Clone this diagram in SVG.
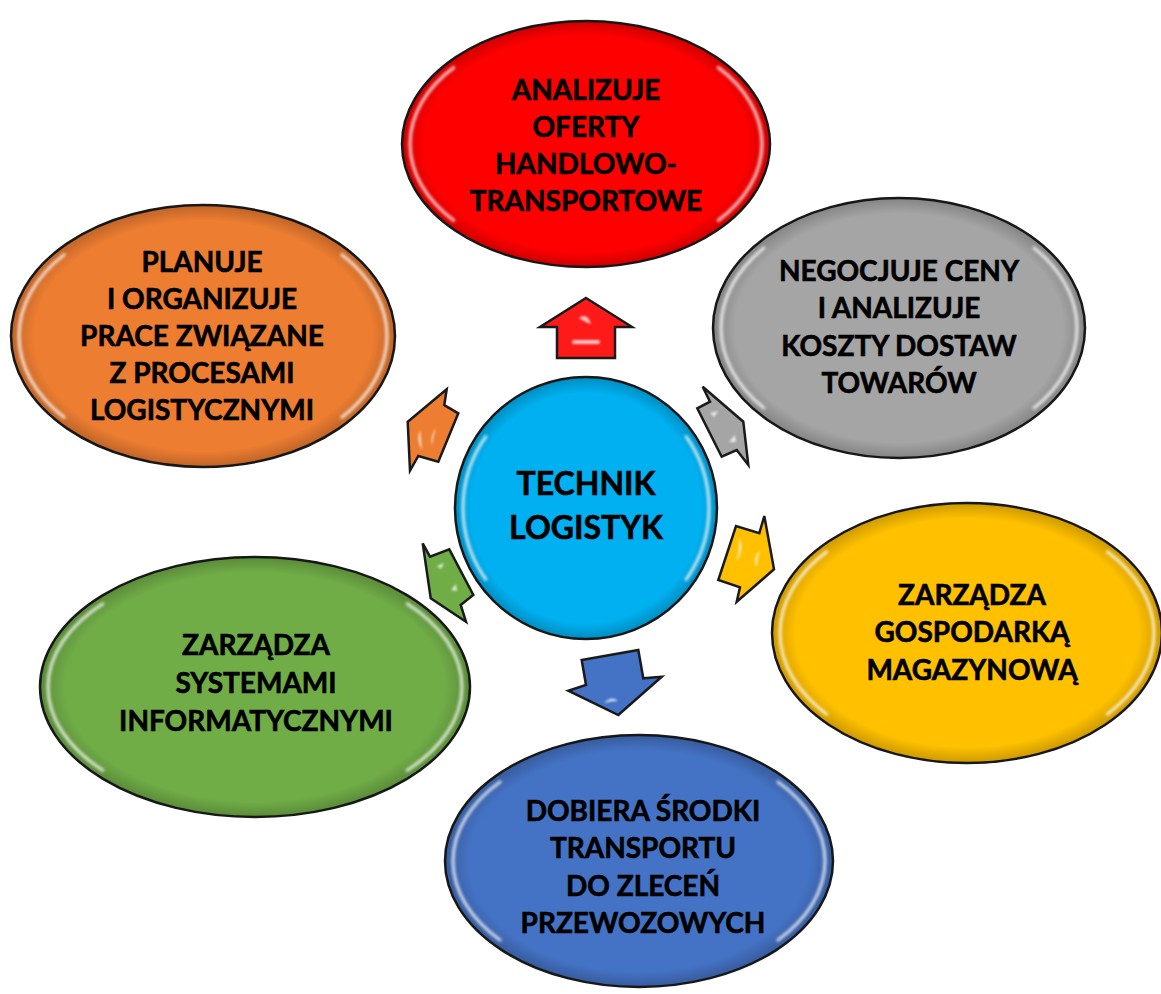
<svg xmlns="http://www.w3.org/2000/svg" width="1161" height="994" viewBox="0 0 1161 994">
<defs>
<radialGradient id="shade" cx="0.5" cy="0.5" r="0.5">
<stop offset="0" stop-color="#000" stop-opacity="0"/>
<stop offset="0.88" stop-color="#000" stop-opacity="0"/>
<stop offset="1" stop-color="#000" stop-opacity="0.2"/>
</radialGradient>
<filter id="blur" x="-20%" y="-20%" width="140%" height="140%"><feGaussianBlur stdDeviation="1.4"/></filter>
<filter id="blur2" x="-50%" y="-50%" width="200%" height="200%"><feGaussianBlur stdDeviation="1"/></filter>
</defs>
<style>
.node{stroke:#1a1a1a;stroke-width:2.5}
.shade{fill:url(#shade)}
.gloss{fill:none;stroke:#fff;stroke-width:3;stroke-opacity:0.8;filter:url(#blur);stroke-dasharray:10 30 20 30 10}
.lbl{font-family:Lato,"Liberation Sans",sans-serif;font-weight:700;font-size:28px;fill:#000;stroke:#000;stroke-width:0.6;text-anchor:middle}
.big{font-size:32px}
.arrow{stroke:#1a1a1a;stroke-width:2.5;stroke-linejoin:miter}
.spot{fill:#fff;opacity:0.75;filter:url(#blur2)}
</style>
<rect width="1161" height="994" fill="#fff"/>
<g id="connectors">
<g id="arrow-red"><polygon class="arrow" fill="#FF1A1A" points="586,298 632,327 615,327 615,358 557,358 557,327 540,327"/><path class="spot" d="M579,318 q8,-6 12,6 q-6,-2 -12,-6z"/><rect class="spot" x="572" y="340" width="28" height="4" rx="2"/></g>
<g id="arrow-gray"><polygon class="arrow" fill="#A5A5A5" points="702.7,386.7 710,401.7 697.3,408.3 721.7,456.7 736.7,450 748.3,465 743.3,421.7"/><path class="spot" d="M710,413 l8,-2 -4,6z"/><path class="spot" d="M729,442 l6,-7 1,7z"/></g>
<g id="arrow-yellow"><polygon class="arrow" fill="#FFC000" points="764.3,516 774,569.3 736.7,601.7 740,587.3 718.3,580 736,526 759.3,533.3"/><path class="spot" d="M739,538 q6,10 -3,24 q4,-12 3,-24z"/><path class="spot" d="M760,550 q-8,8 -3,18 q0,-10 3,-18z"/></g>
<g id="arrow-blue"><polygon class="arrow" fill="#4472C4" points="581.7,660 638.3,650 643.3,678.3 661.7,676.7 618.3,715 568.3,690.7 586,685"/><path class="spot" d="M604,703 q8,-8 14,-2 q-8,0 -14,2z"/></g>
<g id="arrow-green"><polygon class="arrow" fill="#70AD47" points="422.7,543.3 430,556.7 449.3,549.3 473.3,595 460.7,605 466,621.7 430.7,598.3"/><path class="spot" d="M437,566 l7,-3 -3,6z"/><path class="spot" d="M451,590 l5,-6 1,7z"/></g>
<g id="arrow-orange"><polygon class="arrow" fill="#ED7D31" points="446.7,389.3 407.7,421.7 410,470.7 418.3,456 438.3,461.7 458.3,413.3 444.3,405"/><path class="spot" d="M420,430 q-4,10 2,20 q-1,-10 -2,-20z"/><path class="spot" d="M436,428 q-6,8 -4,18 q1,-10 4,-18z"/></g>
</g>
<g id="node-red">
<ellipse class="node" cx="586" cy="144" rx="184" ry="123" fill="#FF0000"/>
<ellipse class="shade" cx="586" cy="144" rx="184" ry="123"/>
<ellipse class="gloss" cx="586" cy="144" rx="176" ry="116" pathLength="100"/>
<text class="lbl" x="586" y="100">ANALIZUJE</text>
<text class="lbl" x="586" y="137">OFERTY</text>
<text class="lbl" x="586" y="174">HANDLOWO-</text>
<text class="lbl" x="586" y="211">TRANSPORTOWE</text>
</g>
<g id="node-gray">
<ellipse class="node" cx="899" cy="328" rx="186" ry="130" fill="#A5A5A5"/>
<ellipse class="shade" cx="899" cy="328" rx="186" ry="130"/>
<ellipse class="gloss" cx="899" cy="328" rx="178" ry="123" pathLength="100"/>
<text class="lbl" x="899" y="281">NEGOCJUJE CENY</text>
<text class="lbl" x="899" y="318">I ANALIZUJE</text>
<text class="lbl" x="899" y="356">KOSZTY DOSTAW</text>
<text class="lbl" x="899" y="393">TOWARÓW</text>
</g>
<g id="node-orange">
<ellipse class="node" cx="203" cy="336" rx="192" ry="131" fill="#ED7D31"/>
<ellipse class="shade" cx="203" cy="336" rx="192" ry="131"/>
<ellipse class="gloss" cx="203" cy="336" rx="184" ry="124" pathLength="100"/>
<text class="lbl" x="202" y="272">PLANUJE</text>
<text class="lbl" x="202" y="309">I ORGANIZUJE</text>
<text class="lbl" x="202" y="346">PRACE ZWIĄZANE</text>
<text class="lbl" x="202" y="383">Z PROCESAMI</text>
<text class="lbl" x="202" y="420">LOGISTYCZNYMI</text>
</g>
<g id="node-yellow">
<ellipse class="node" cx="967" cy="633" rx="195" ry="130" fill="#FFC000"/>
<ellipse class="shade" cx="967" cy="633" rx="195" ry="130"/>
<ellipse class="gloss" cx="967" cy="633" rx="187" ry="123" pathLength="100"/>
<text class="lbl" x="972" y="605">ZARZĄDZA</text>
<text class="lbl" x="972" y="642">GOSPODARKĄ</text>
<text class="lbl" x="972" y="680">MAGAZYNOWĄ</text>
</g>
<g id="node-green">
<ellipse class="node" cx="255" cy="687" rx="215" ry="130" fill="#70AD47"/>
<ellipse class="shade" cx="255" cy="687" rx="215" ry="130"/>
<ellipse class="gloss" cx="255" cy="687" rx="207" ry="123" pathLength="100"/>
<text class="lbl" x="256" y="655">ZARZĄDZA</text>
<text class="lbl" x="256" y="693">SYSTEMAMI</text>
<text class="lbl" x="256" y="731">INFORMATYCZNYMI</text>
</g>
<g id="node-blue">
<ellipse class="node" cx="639" cy="861" rx="194" ry="126" fill="#4472C4"/>
<ellipse class="shade" cx="639" cy="861" rx="194" ry="126"/>
<ellipse class="gloss" cx="639" cy="861" rx="186" ry="119" pathLength="100"/>
<text class="lbl" x="643" y="821">DOBIERA ŚRODKI</text>
<text class="lbl" x="643" y="858">TRANSPORTU</text>
<text class="lbl" x="643" y="896">DO ZLECEŃ</text>
<text class="lbl" x="643" y="933">PRZEWOZOWYCH</text>
</g>
<g id="node-center">
<circle class="node" cx="586" cy="508" r="131" fill="#00B0F0"/>
<circle class="shade" cx="586" cy="508" r="131"/>
<circle class="gloss" cx="586" cy="508" r="123" pathLength="100"/>
<text class="lbl big" x="586" y="495">TECHNIK</text>
<text class="lbl big" x="586" y="539">LOGISTYK</text>
</g>
</svg>
